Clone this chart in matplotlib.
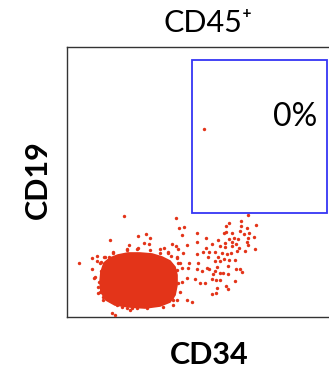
import matplotlib
matplotlib.use('Agg')
import matplotlib.pyplot as plt
from matplotlib.patches import Polygon, Rectangle

plt.rcParams['font.family'] = ['Lato', 'DejaVu Sans']

# dense core of the population (outline, in channel units)
core_x = [34, 37, 43, 51, 61, 73, 85, 95, 103, 108, 110, 110, 108, 103, 93, 78, 63, 48, 39, 34, 33]
core_y = [45, 54, 59, 62, 64, 64, 63, 60, 56, 50, 42, 32, 22, 15, 11, 9, 10, 12, 17, 25, 35]

# individual events outside the core
ev_x = [57.3, 42.7, 71, 62.3, 76.7, 59.7, 69.7, 24.7, 30, 30.3, 34, 37.3, 42, 46.3,
        108.7, 111.7, 117, 114.7, 129.7, 79, 83, 130.3, 82.3, 120, 104.7, 108.7, 97, 111.3,
        136.3, 116.3, 129.7, 101, 104, 109.7, 111.3, 122.3, 131, 93.3,
        180.7, 162, 174.3, 189, 158.7, 174, 179.7, 159.3, 173, 181.7, 157, 165, 176.7, 187,
        166.7, 180.7, 162.3, 170.7, 164.7, 179.7, 151.3, 158, 168.7, 138.7, 145.3, 152.7, 158,
        165.3, 180.7, 172.3, 188, 178, 139, 142.3, 148, 154.7, 159.7, 163.7, 169.7, 150.7, 157,
        162.3, 140.7, 148, 152.7, 168,
        114.7, 121.3, 129.7, 134.7, 109.7, 119.7, 128, 133, 114.7, 107.3, 113, 109.7, 119.7,
        124.7, 105.3, 106.3,
        139.7, 142, 150, 161.3, 168.7, 173, 175.3, 148, 153, 156.3, 160.7, 146.3, 145.3, 148.7,
        153, 168, 138, 159, 161.3, 149.7, 144.7, 148.7,
        24.7, 34, 27.3, 32, 30.7, 33, 36.3, 39.7, 43, 44.7, 48, 49.7, 54.7, 59.7, 64.7, 69.7,
        137, 12.3,
        46.3, 59.7, 71.3, 83, 93, 101.3, 109.7, 113, 38, 33, 28, 31.3, 36.3, 63, 79.7, 96.3,
        106.3, 111.3]
ev_y = [101, 76.7, 81, 71.7, 73.7, 68, 68.3, 59.3, 60.7, 56.3, 54.7, 60, 59.7, 64.3,
        98.7, 89.3, 90.3, 82, 84, 82.7, 78.7, 75.3, 72.7, 72, 73, 71.3, 69.3, 68,
        65.3, 63.7, 62.7, 65.3, 61.3, 60.3, 53.7, 53.7, 53.7, 67.7,
        102, 94.3, 96.3, 91.7, 91, 91, 89.3, 85.3, 86.3, 84.3, 83.7, 83.7, 83, 80.3,
        78.7, 79.3, 77.7, 77.7, 75.3, 75.3, 77, 74.3, 73, 78.7, 73, 71, 70.3,
        71.3, 72, 69.3, 67.7, 66, 69.3, 65, 64.7, 63.7, 62.7, 64.3, 65.7, 60.3, 58.3,
        57, 60.3, 56.3, 56, 57,
        49.3, 49.3, 48, 46, 47, 38.7, 37.7, 33.7, 35.3, 37, 24.7, 17, 17,
        15.3, 20.3, 12,
        48.7, 48, 50.3, 51, 48, 48, 44.7, 46, 43.7, 43.7, 42.7, 42.7, 38, 37,
        37, 36, 33.7, 31.3, 28, 28.7, 22.7, 23.7,
        48, 46, 39.3, 35.3, 30.3, 25.3, 20.3, 18.7, 17, 3.7, 2, 12, 10.3, 9.3, 9.3, 8.7,
        187.7, 53.7,
        65.3, 67, 68.7, 67, 63.7, 63.7, 58.7, 53.7, 60.3, 53.7, 40.3, 23.7, 17, 7, 8.7, 10.3,
        17, 33.7]

# gate (x0, y0, x1, y1) and its label
gate = (125, 104, 260, 257)
gate_label = '0%'

dot_color = '#E33419'

fig = plt.figure(figsize=(3.29, 3.71), dpi=100)
ax = fig.add_axes([67 / 329, 54 / 371, 268 / 329, 270 / 371])
ax.set_xlim(0, 268)
ax.set_ylim(0, 270)
ax.set_xticks([])
ax.set_yticks([])
for s in ax.spines.values():
    s.set_color('#333333')
    s.set_linewidth(1.0)

ax.add_patch(Polygon(list(zip(core_x, core_y)), closed=True, facecolor=dot_color,
                     edgecolor=dot_color, linewidth=1.2, zorder=2))
ax.scatter(ev_x, ev_y, s=6, color=dot_color, linewidths=0, zorder=3)

ax.add_patch(Rectangle((gate[0], gate[1]), gate[2] - gate[0], gate[3] - gate[1],
                       fill=False, edgecolor='#3535F5', linewidth=1.3, zorder=4))
ax.text(gate[2] - 10, 200, gate_label, fontsize=23, ha='right', va='center', zorder=5)

fig.text(208 / 329, 1 - 23 / 371, 'CD45\u207a', fontsize=22, ha='center', va='center')
fig.text(209 / 329, 1 - 355 / 371, 'CD34', fontsize=22, fontweight='bold',
         ha='center', va='center')
fig.text(38 / 329, 1 - 180 / 371, 'CD19', fontsize=22, fontweight='bold',
         ha='center', va='center', rotation=90)

fig.savefig('out.png', dpi=100)
